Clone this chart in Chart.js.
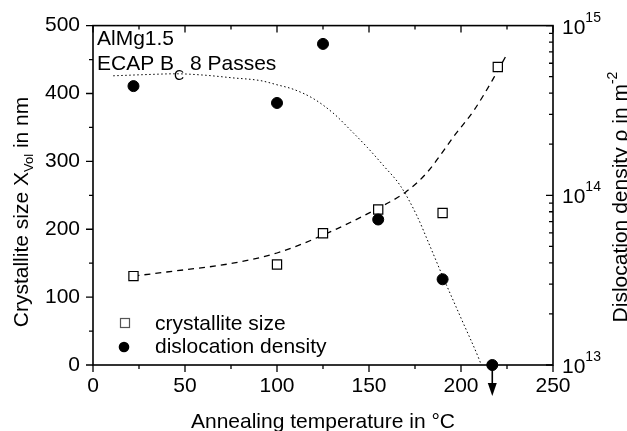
<!DOCTYPE html>
<html>
<head>
<meta charset="utf-8">
<script src="https://cdn.jsdelivr.net/npm/chart.js@4"></script>
<style>
  body { margin: 0; background: #fff; }
  canvas { display: block; }
</style>
</head>
<body>
<canvas id="c" width="627" height="431"></canvas>
<script>
// measured points
const sizeTemp = [22, 100, 125, 155, 190, 220];
const crystalliteSize = [131, 148, 194, 229, 224, 439];      // nm
const densityTemp = [22, 100, 125, 155, 190, 217];
const dislocationDensity = [4.4e14, 3.5e14, 7.8e14, 7.2e13, 3.2e13, 1.0e13]; // m^-2

// fit curves
const sizeFitTemp = [22, 40, 76, 100, 123, 155, 170, 181, 197, 207, 218, 225];
const sizeFit = [131, 137, 150, 165, 189, 231, 255, 282, 340, 375, 424, 458];
const densityFitTemp = [11, 30, 45, 60, 76, 91, 100, 109, 120, 131, 140, 149, 158, 167, 176, 183, 190, 200, 210, 211];
const densityFit = [5.06e14, 5.15e14, 5.2e14, 5.11e14, 4.92e14, 4.74e14, 4.48e14, 4.21e14, 3.7e14, 3.02e14,
                    2.42e14, 1.92e14, 1.49e14, 1.14e14, 7.59e13, 5.06e13, 3.34e13, 1.89e13, 1.07e13, 1.0e13];

const xTicks = [0, 50, 100, 150, 200, 250];
const yTicks = [0, 100, 200, 300, 400, 500];
const y2Decades = [13, 14, 15];

const FONT = 'Liberation Sans, Arial, sans-serif';
const pts = (xs, ys) => xs.map((x, i) => ({ x: x, y: ys[i] }));

// draw text made of pieces with different size / vertical offset
function richText(ctx, parts, x, y, align) {
  let total = 0;
  parts.forEach(p => { ctx.font = p.size + 'px ' + FONT; p.w = ctx.measureText(p.text).width; total += p.w; });
  let cx = align === 'center' ? x - total / 2 : x;
  parts.forEach(p => {
    ctx.font = p.size + 'px ' + FONT;
    ctx.fillText(p.text, cx, y + (p.dy || 0));
    cx += p.w;
  });
}

const decor = {
  id: 'decor',
  afterDraw(chart) {
    const ctx = chart.ctx;
    const a = chart.chartArea;
    const xs = chart.scales.x, ys = chart.scales.y, y2 = chart.scales.y2;
    ctx.save();
    ctx.strokeStyle = '#000';
    ctx.fillStyle = '#000';
    ctx.lineWidth = 1.6;
    ctx.strokeRect(a.left, a.top, a.right - a.left, a.bottom - a.top);

    ctx.lineWidth = 1.3;
    ctx.beginPath();
    // x ticks: outward at bottom, inward at top
    for (let v = 0; v <= 250; v += 25) {
      const px = xs.getPixelForValue(v);
      const len = v % 50 === 0 ? 7 : 4;
      ctx.moveTo(px, a.bottom); ctx.lineTo(px, a.bottom + len);
      ctx.moveTo(px, a.top); ctx.lineTo(px, a.top + len);
    }
    // left ticks outward
    for (let v = 0; v <= 500; v += 50) {
      const py = ys.getPixelForValue(v);
      const len = v % 100 === 0 ? 7 : 4;
      ctx.moveTo(a.left, py); ctx.lineTo(a.left - len, py);
    }
    // right log ticks inward
    for (let d = 13; d <= 15; d++) {
      for (let m = 1; m <= 9; m++) {
        if (d === 15 && m > 1) break;
        const py = y2.getPixelForValue(m * Math.pow(10, d));
        const len = m === 1 ? 7 : 4;
        ctx.moveTo(a.right, py); ctx.lineTo(a.right - len, py);
      }
    }
    ctx.stroke();

    // right tick labels 10^n
    ctx.textAlign = 'left';
    ctx.textBaseline = 'alphabetic';
    y2Decades.forEach(d => {
      const py = y2.getPixelForValue(Math.pow(10, d));
      richText(ctx, [{ text: '10', size: 21 }, { text: String(d), size: 14, dy: -12 }], a.right + 9, py + 8);
    });

    // axis titles
    ctx.save();
    ctx.translate(28, 212);
    ctx.rotate(-Math.PI / 2);
    richText(ctx, [{ text: 'Crystallite size X', size: 21 }, { text: 'Vol', size: 13, dy: 5 },
                   { text: ' in nm', size: 21 }], 0, 0, 'center');
    ctx.restore();

    ctx.save();
    ctx.translate(627, 197);
    ctx.rotate(-Math.PI / 2);
    richText(ctx, [{ text: 'Dislocation density \u03c1 in m', size: 21 }, { text: '-2', size: 14, dy: -10 }],
             0, 0, 'center');
    ctx.restore();

    ctx.textAlign = 'left';
    richText(ctx, [{ text: 'Annealing temperature in \u00b0C', size: 21 }], (a.left + a.right) / 2, 428, 'center');

    // annotation
    richText(ctx, [{ text: 'AlMg1.5', size: 21 }], 97, 45);
    richText(ctx, [{ text: 'ECAP B', size: 21 }, { text: 'C', size: 14, dy: 10 }, { text: ' 8 Passes', size: 21 }], 97, 70);

    // legend
    ctx.lineWidth = 1.2;
    ctx.fillStyle = '#fff';
    ctx.fillRect(120.5, 318.5, 9, 9);
    ctx.strokeStyle = '#555';
    ctx.strokeRect(120.5, 318.5, 9, 9);
    ctx.fillStyle = '#000';
    ctx.beginPath();
    ctx.arc(124, 347, 5.3, 0, Math.PI * 2);
    ctx.fill();
    richText(ctx, [{ text: 'crystallite size', size: 21 }], 155, 330);
    richText(ctx, [{ text: 'dislocation density', size: 21 }], 155, 353);

    // arrow below the last density point (upper limit)
    const last = densityTemp.length - 1;
    const ax = xs.getPixelForValue(densityTemp[last]);
    const ay = y2.getPixelForValue(dislocationDensity[last]);
    ctx.strokeStyle = '#000';
    ctx.lineWidth = 1.6;
    ctx.beginPath();
    ctx.moveTo(ax, ay);
    ctx.lineTo(ax, ay + 20);
    ctx.stroke();
    ctx.beginPath();
    ctx.moveTo(ax - 4.5, ay + 18);
    ctx.lineTo(ax + 4.5, ay + 18);
    ctx.lineTo(ax, ay + 31);
    ctx.closePath();
    ctx.fill();
    ctx.restore();
  }
};

const tickFont = { family: FONT, size: 21 };

new Chart(document.getElementById('c'), {
  type: 'scatter',
  data: {
    datasets: [
      {
        label: 'dislocation density',
        data: pts(densityTemp, dislocationDensity),
        yAxisID: 'y2',
        pointStyle: 'circle',
        pointRadius: 5.5,
        backgroundColor: '#000',
        borderColor: '#000',
        clip: false
      },
      {
        label: 'crystallite size',
        data: pts(sizeTemp, crystalliteSize),
        yAxisID: 'y',
        pointStyle: 'rect',
        pointRadius: 6.5,
        backgroundColor: '#fff',
        borderColor: '#000',
        borderWidth: 1.2,
        clip: false
      },
      {
        label: 'size fit',
        data: pts(sizeFitTemp, sizeFit),
        yAxisID: 'y',
        showLine: true,
        pointRadius: 0,
        borderColor: '#000',
        borderWidth: 1.3,
        borderDash: [6, 5],
        cubicInterpolationMode: 'monotone'
      },
      {
        label: 'density fit',
        data: pts(densityFitTemp, densityFit),
        yAxisID: 'y2',
        showLine: true,
        pointRadius: 0,
        borderColor: '#000',
        borderWidth: 1,
        borderDash: [1.5, 2.5],
        cubicInterpolationMode: 'monotone'
      }
    ]
  },
  options: {
    responsive: false,
    animation: false,
    layout: { padding: { top: 25, left: 0, right: 0, bottom: 0 } },
    plugins: { legend: { display: false }, tooltip: { enabled: false } },
    scales: {
      x: {
        type: 'linear', min: 0, max: 250,
        afterBuildTicks: s => { s.ticks = xTicks.map(v => ({ value: v })); },
        ticks: { font: tickFont, color: '#000', padding: 9, maxRotation: 0 },
        grid: { display: false, drawTicks: false },
        border: { display: false },
        afterFit: s => { s.height = 66; }
      },
      y: {
        type: 'linear', position: 'left', min: 0, max: 500,
        afterBuildTicks: s => { s.ticks = yTicks.map(v => ({ value: v })); },
        ticks: { font: tickFont, color: '#000', padding: 13 },
        grid: { display: false, drawTicks: false },
        border: { display: false },
        afterFit: s => { s.width = 93; }
      },
      y2: {
        type: 'logarithmic', position: 'right', min: 1e13, max: 1e15,
        ticks: { display: false },
        grid: { display: false, drawTicks: false },
        border: { display: false },
        afterFit: s => { s.width = 74; }
      }
    }
  },
  plugins: [decor]
});
</script>
</body>
</html>
